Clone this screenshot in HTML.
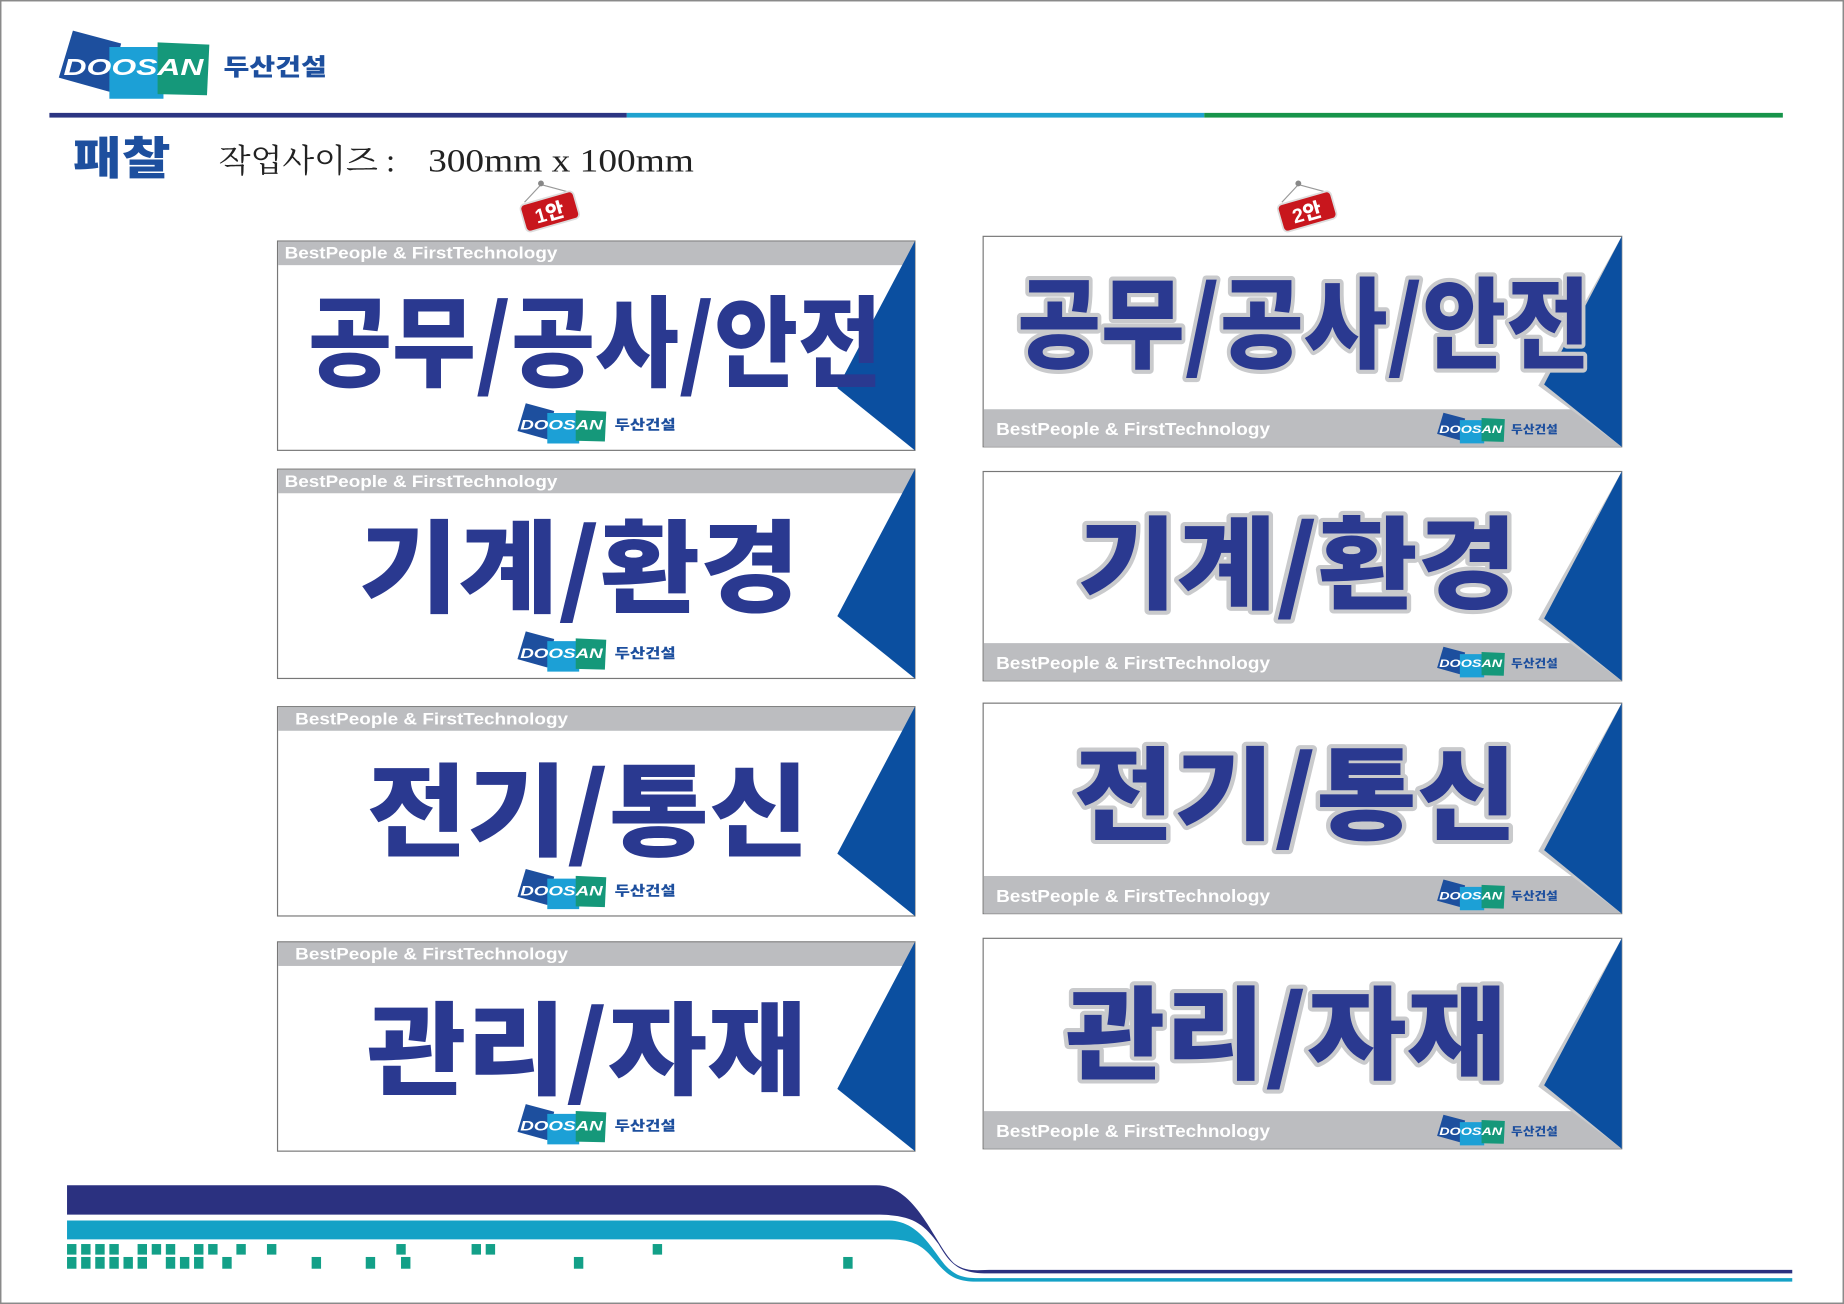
<!DOCTYPE html>
<html><head><meta charset="utf-8"><style>
html,body{margin:0;padding:0;background:#fff;}
svg{display:block;}
.kb{font-family:"Liberation Sans","Noto Sans CJK KR",sans-serif;font-weight:900;}
.bp{font-family:"Liberation Sans",sans-serif;font-weight:bold;fill:#fff;}
.big{font-family:"Noto Sans CJK KR","NanumGothic",sans-serif;font-weight:900;fill:#2a3990;}
.big2{font-family:"Noto Sans CJK KR","NanumGothic",sans-serif;font-weight:900;fill:#2a3990;stroke:#c9cacc;stroke-width:7;paint-order:stroke;stroke-linejoin:round;}
</style></head><body>
<svg width="1844" height="1304" viewBox="0 0 1568 1109" preserveAspectRatio="none" xmlns="http://www.w3.org/2000/svg">
<rect x="0.5" y="0.5" width="1567" height="1108" fill="#fff" stroke="#8a8a8a" stroke-width="1.5"/>

<g>
<polygon points="62,26 103,37 93,78 50,66" fill="#1d4f9e"/>
<polygon points="93,40 139,40 139,84 93,84" fill="#1ca0d6"/>
<polygon points="134,36 178,38 176,81 134,80" fill="#15987a"/>
<text x="54" y="64" class="kb" font-size="20" font-style="italic" fill="#fff" textLength="119" lengthAdjust="spacingAndGlyphs">DOOSAN</text>
<text x="190" y="64" class="kb" font-size="20" fill="#1d4f9e" textLength="88" lengthAdjust="spacingAndGlyphs">두산건설</text>
</g>

<rect x="42" y="96" width="491" height="4" fill="#2b3582"/>
<rect x="533" y="96" width="491" height="4" fill="#1fa2cf"/>
<rect x="1024" y="96" width="492" height="4" fill="#17944a"/>

<text x="62" y="148" class="kb" font-size="38" fill="#1d4f9e" textLength="83" lengthAdjust="spacingAndGlyphs">패찰</text>
<text x="186" y="146" font-family="'Liberation Serif','Noto Serif CJK KR','Noto Serif CJK SC',serif" font-size="27" fill="#222" textLength="150" lengthAdjust="spacingAndGlyphs">작업사이즈 :</text>
<text x="364" y="146" font-family="'Liberation Serif',serif" font-size="28" fill="#222" textLength="226" lengthAdjust="spacingAndGlyphs">300mm x 100mm</text>

<g>
<line x1="460" y1="157" x2="446" y2="172" stroke="#999" stroke-width="1"/>
<line x1="460" y1="157" x2="486" y2="164" stroke="#999" stroke-width="1"/>
<circle cx="460" cy="156" r="2.5" fill="#888"/>
<g transform="rotate(-16 467 180)"><rect x="444" y="168" width="47" height="24" rx="4" fill="#c8161d" stroke="#ddd" stroke-width="1.5"/>
<text x="467" y="187" text-anchor="middle" class="kb" font-size="17" fill="#fff">1안</text></g>
</g>
<g>
<line x1="1104" y1="157" x2="1090" y2="172" stroke="#999" stroke-width="1"/>
<line x1="1104" y1="157" x2="1130" y2="164" stroke="#999" stroke-width="1"/>
<circle cx="1104" cy="156" r="2.5" fill="#888"/>
<g transform="rotate(-16 1111 180)"><rect x="1088" y="168" width="47" height="24" rx="4" fill="#c8161d" stroke="#ddd" stroke-width="1.5"/>
<text x="1111" y="187" text-anchor="middle" class="kb" font-size="17" fill="#fff">2안</text></g>
</g>

<g>
<rect x="236" y="205" width="542" height="178" fill="#fff" stroke="#777" stroke-width="1"/>
<rect x="236.5" y="205.5" width="541" height="20" fill="#bcbdc0"/>
<text x="242" y="220" class="bp" font-size="14" textLength="232" lengthAdjust="spacingAndGlyphs">BestPeople &amp; FirstTechnology</text>
<polygon points="778,205 712,330 778,383" fill="#0b4fa0"/>
<text x="262" y="322" class="big" font-size="84" textLength="488" lengthAdjust="spacingAndGlyphs">공무/공사/안전</text>
<g transform="translate(440,343) scale(0.59) translate(-50,-26)">
<polygon points="62,26 103,37 93,78 50,66" fill="#1d4f9e"/><polygon points="93,40 139,40 139,84 93,84" fill="#1ca0d6"/><polygon points="134,36 178,38 176,81 134,80" fill="#15987a"/>
<text x="54" y="64" class="kb" font-size="20" font-style="italic" fill="#fff" textLength="119" lengthAdjust="spacingAndGlyphs">DOOSAN</text>
<text x="190" y="64" class="kb" font-size="20" fill="#1d4f9e" textLength="88" lengthAdjust="spacingAndGlyphs">두산건설</text></g>
</g>

<g>
<rect x="236" y="399" width="542" height="178" fill="#fff" stroke="#777" stroke-width="1"/>
<rect x="236.5" y="399.5" width="541" height="20" fill="#bcbdc0"/>
<text x="242" y="414" class="bp" font-size="14" textLength="232" lengthAdjust="spacingAndGlyphs">BestPeople &amp; FirstTechnology</text>
<polygon points="778,399 712,524 778,577" fill="#0b4fa0"/>
<text x="305" y="514" class="big" font-size="86" textLength="375" lengthAdjust="spacingAndGlyphs">기계/환경</text>
<g transform="translate(440,537) scale(0.59) translate(-50,-26)">
<polygon points="62,26 103,37 93,78 50,66" fill="#1d4f9e"/><polygon points="93,40 139,40 139,84 93,84" fill="#1ca0d6"/><polygon points="134,36 178,38 176,81 134,80" fill="#15987a"/>
<text x="54" y="64" class="kb" font-size="20" font-style="italic" fill="#fff" textLength="119" lengthAdjust="spacingAndGlyphs">DOOSAN</text>
<text x="190" y="64" class="kb" font-size="20" fill="#1d4f9e" textLength="88" lengthAdjust="spacingAndGlyphs">두산건설</text></g>
</g>

<g>
<rect x="236" y="601" width="542" height="178" fill="#fff" stroke="#777" stroke-width="1"/>
<rect x="236.5" y="601.5" width="541" height="20" fill="#bcbdc0"/>
<text x="251" y="616" class="bp" font-size="14" textLength="232" lengthAdjust="spacingAndGlyphs">BestPeople &amp; FirstTechnology</text>
<polygon points="778,601 712,726 778,779" fill="#0b4fa0"/>
<text x="312" y="721" class="big" font-size="86" textLength="376" lengthAdjust="spacingAndGlyphs">전기/통신</text>
<g transform="translate(440,739) scale(0.59) translate(-50,-26)">
<polygon points="62,26 103,37 93,78 50,66" fill="#1d4f9e"/><polygon points="93,40 139,40 139,84 93,84" fill="#1ca0d6"/><polygon points="134,36 178,38 176,81 134,80" fill="#15987a"/>
<text x="54" y="64" class="kb" font-size="20" font-style="italic" fill="#fff" textLength="119" lengthAdjust="spacingAndGlyphs">DOOSAN</text>
<text x="190" y="64" class="kb" font-size="20" fill="#1d4f9e" textLength="88" lengthAdjust="spacingAndGlyphs">두산건설</text></g>
</g>

<g>
<rect x="236" y="801" width="542" height="178" fill="#fff" stroke="#777" stroke-width="1"/>
<rect x="236.5" y="801.5" width="541" height="20" fill="#bcbdc0"/>
<text x="251" y="816" class="bp" font-size="14" textLength="232" lengthAdjust="spacingAndGlyphs">BestPeople &amp; FirstTechnology</text>
<polygon points="778,801 712,926 778,979" fill="#0b4fa0"/>
<text x="312" y="924" class="big" font-size="86" textLength="374" lengthAdjust="spacingAndGlyphs">관리/자재</text>
<g transform="translate(440,939) scale(0.59) translate(-50,-26)">
<polygon points="62,26 103,37 93,78 50,66" fill="#1d4f9e"/><polygon points="93,40 139,40 139,84 93,84" fill="#1ca0d6"/><polygon points="134,36 178,38 176,81 134,80" fill="#15987a"/>
<text x="54" y="64" class="kb" font-size="20" font-style="italic" fill="#fff" textLength="119" lengthAdjust="spacingAndGlyphs">DOOSAN</text>
<text x="190" y="64" class="kb" font-size="20" fill="#1d4f9e" textLength="88" lengthAdjust="spacingAndGlyphs">두산건설</text></g>
</g>

<g>
<rect x="836" y="201" width="543" height="179" fill="#fff" stroke="#777" stroke-width="1"/>
<polygon points="836.5,348 1340,348 1379,380 836.5,380" fill="#bcbdc0"/>
<polygon points="1379,201 1308,328 1379,380" fill="#c9cacc"/>
<polygon points="1379,201 1313,327 1379,380" fill="#0b4fa0"/>
<text x="865" y="306" class="big2" font-size="84" textLength="487" lengthAdjust="spacingAndGlyphs">공무/공사/안전</text>
<text x="847" y="370" class="bp" font-size="15" textLength="233" lengthAdjust="spacingAndGlyphs">BestPeople &amp; FirstTechnology</text>
<g transform="translate(1222,351) scale(0.45) translate(-50,-26)">
<polygon points="62,26 103,37 93,78 50,66" fill="#1d4f9e"/><polygon points="93,40 139,40 139,84 93,84" fill="#1ca0d6"/><polygon points="134,36 178,38 176,81 134,80" fill="#15987a"/>
<text x="54" y="64" class="kb" font-size="20" font-style="italic" fill="#fff" textLength="119" lengthAdjust="spacingAndGlyphs">DOOSAN</text>
<text x="190" y="64" class="kb" font-size="20" fill="#1d4f9e" textLength="88" lengthAdjust="spacingAndGlyphs">두산건설</text></g>
</g>

<g>
<rect x="836" y="401" width="543" height="178" fill="#fff" stroke="#777" stroke-width="1"/>
<polygon points="836.5,547 1340,547 1379,579 836.5,579" fill="#bcbdc0"/>
<polygon points="1379,401 1308,527 1379,579" fill="#c9cacc"/>
<polygon points="1379,401 1313,526 1379,579" fill="#0b4fa0"/>
<text x="916" y="511" class="big2" font-size="86" textLength="374" lengthAdjust="spacingAndGlyphs">기계/환경</text>
<text x="847" y="569" class="bp" font-size="15" textLength="233" lengthAdjust="spacingAndGlyphs">BestPeople &amp; FirstTechnology</text>
<g transform="translate(1222,550) scale(0.45) translate(-50,-26)">
<polygon points="62,26 103,37 93,78 50,66" fill="#1d4f9e"/><polygon points="93,40 139,40 139,84 93,84" fill="#1ca0d6"/><polygon points="134,36 178,38 176,81 134,80" fill="#15987a"/>
<text x="54" y="64" class="kb" font-size="20" font-style="italic" fill="#fff" textLength="119" lengthAdjust="spacingAndGlyphs">DOOSAN</text>
<text x="190" y="64" class="kb" font-size="20" fill="#1d4f9e" textLength="88" lengthAdjust="spacingAndGlyphs">두산건설</text></g>
</g>

<g>
<rect x="836" y="598" width="543" height="179" fill="#fff" stroke="#777" stroke-width="1"/>
<polygon points="836.5,745 1340,745 1379,777 836.5,777" fill="#bcbdc0"/>
<polygon points="1379,598 1308,724 1379,777" fill="#c9cacc"/>
<polygon points="1379,598 1313,723 1379,777" fill="#0b4fa0"/>
<text x="913" y="707" class="big2" font-size="86" textLength="377" lengthAdjust="spacingAndGlyphs">전기/통신</text>
<text x="847" y="767" class="bp" font-size="15" textLength="233" lengthAdjust="spacingAndGlyphs">BestPeople &amp; FirstTechnology</text>
<g transform="translate(1222,748) scale(0.45) translate(-50,-26)">
<polygon points="62,26 103,37 93,78 50,66" fill="#1d4f9e"/><polygon points="93,40 139,40 139,84 93,84" fill="#1ca0d6"/><polygon points="134,36 178,38 176,81 134,80" fill="#15987a"/>
<text x="54" y="64" class="kb" font-size="20" font-style="italic" fill="#fff" textLength="119" lengthAdjust="spacingAndGlyphs">DOOSAN</text>
<text x="190" y="64" class="kb" font-size="20" fill="#1d4f9e" textLength="88" lengthAdjust="spacingAndGlyphs">두산건설</text></g>
</g>

<g>
<rect x="836" y="798" width="543" height="179" fill="#fff" stroke="#777" stroke-width="1"/>
<polygon points="836.5,945 1340,945 1379,977 836.5,977" fill="#bcbdc0"/>
<polygon points="1379,798 1308,924 1379,977" fill="#c9cacc"/>
<polygon points="1379,798 1313,923 1379,977" fill="#0b4fa0"/>
<text x="906" y="911" class="big2" font-size="86" textLength="375" lengthAdjust="spacingAndGlyphs">관리/자재</text>
<text x="847" y="967" class="bp" font-size="15" textLength="233" lengthAdjust="spacingAndGlyphs">BestPeople &amp; FirstTechnology</text>
<g transform="translate(1222,948) scale(0.45) translate(-50,-26)">
<polygon points="62,26 103,37 93,78 50,66" fill="#1d4f9e"/><polygon points="93,40 139,40 139,84 93,84" fill="#1ca0d6"/><polygon points="134,36 178,38 176,81 134,80" fill="#15987a"/>
<text x="54" y="64" class="kb" font-size="20" font-style="italic" fill="#fff" textLength="119" lengthAdjust="spacingAndGlyphs">DOOSAN</text>
<text x="190" y="64" class="kb" font-size="20" fill="#1d4f9e" textLength="88" lengthAdjust="spacingAndGlyphs">두산건설</text></g>
</g>

<path d="M57,1008 L745,1008 C780,1008 795,1060 812,1075 C822,1082 830,1080 845,1080 L1524,1080 L1524,1083 L840,1083 C815,1083 808,1075 798,1058 C785,1040 775,1033 745,1033 L57,1033 Z" fill="#2b3180"/>
<path d="M57,1038 L755,1038 C785,1038 795,1070 808,1080 C816,1087 825,1087 835,1087 L1524,1087 L1524,1090 L830,1090 C812,1090 805,1084 795,1072 C785,1060 778,1054 755,1054 L57,1054 Z" fill="#14a1c6"/>
<g fill="#13a088">
<rect x="57" y="1058" width="8" height="9"/><rect x="69" y="1058" width="8" height="9"/><rect x="81" y="1058" width="8" height="9"/><rect x="93" y="1058" width="8" height="9"/>
<rect x="117" y="1058" width="8" height="9"/><rect x="129" y="1058" width="8" height="9"/><rect x="141" y="1058" width="8" height="9"/>
<rect x="165" y="1058" width="8" height="9"/><rect x="177" y="1058" width="8" height="9"/><rect x="201" y="1058" width="8" height="9"/><rect x="227" y="1058" width="8" height="9"/>
<rect x="337" y="1058" width="8" height="9"/><rect x="401" y="1058" width="8" height="9"/><rect x="413" y="1058" width="8" height="9"/><rect x="555" y="1058" width="8" height="9"/>
<rect x="57" y="1069" width="8" height="10"/><rect x="69" y="1069" width="8" height="10"/><rect x="81" y="1069" width="8" height="10"/><rect x="93" y="1069" width="8" height="10"/><rect x="105" y="1069" width="8" height="10"/><rect x="117" y="1069" width="8" height="10"/>
<rect x="141" y="1069" width="8" height="10"/><rect x="153" y="1069" width="8" height="10"/><rect x="165" y="1069" width="8" height="10"/><rect x="189" y="1069" width="8" height="10"/>
<rect x="265" y="1069" width="8" height="10"/><rect x="311" y="1069" width="8" height="10"/><rect x="341" y="1069" width="8" height="10"/><rect x="488" y="1069" width="8" height="10"/><rect x="717" y="1069" width="8" height="10"/>
</g>
</svg>
</body></html>
